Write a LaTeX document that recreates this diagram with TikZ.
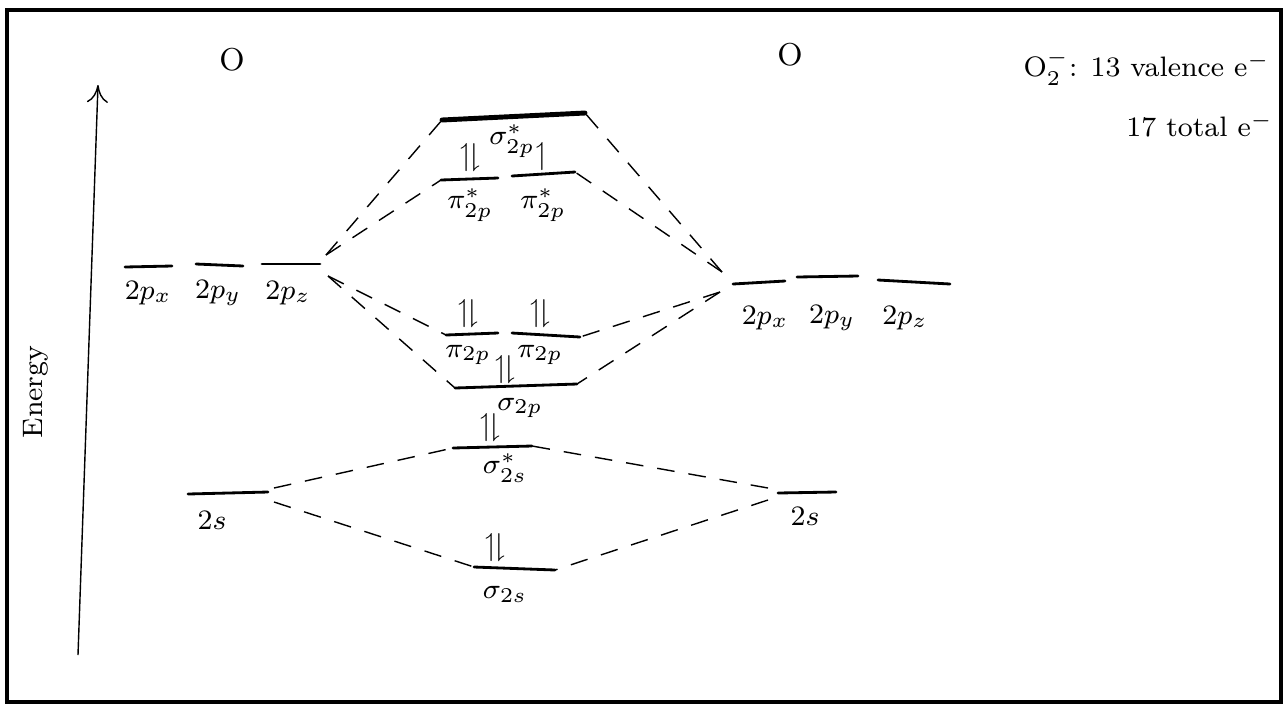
\documentclass[tikz,border=0pt]{standalone}
\usepackage{amssymb}
\usetikzlibrary{arrows.meta}
\begin{document}
\begin{tikzpicture}[x=0.01cm,y=-0.01cm,
  level/.style={thick,line cap=round},
  link/.style={thin,dash pattern=on 5pt off 4pt},
  lbl/.style={font=\footnotesize,inner sep=1pt},
  pair/.style={font=\small,inner sep=0pt}]
  \useasboundingbox (0,0) rectangle (1284,708);
  \draw[line width=1.2pt] (7,10) rectangle (1281,702);
  % energy axis
  \coordinate (eBot) at (78,655);
  \coordinate (eTop) at (98,85);
  \draw[-{To[length=5pt,width=6pt]}] (eBot) -- (eTop);
  \node[rotate=90,font=\footnotesize] (energy) at (36,392) {Energy};
  \node[font=\small] (atomA) at (232,60) {O};
  \node[font=\small] (atomB) at (790,55) {O};
  \node[anchor=east,font=\footnotesize] (note1) at (1282,68) {O$_2^-$: 13 valence e$^-$};
  \node[anchor=west,font=\footnotesize] (note2) at (1114,125) {17 total e$^-$};
  % left O
  \draw[level] (125,267) -- (172,266);
  \draw[level] (196,264) -- (243,266);
  \draw[level] (262,264) -- (320,264);
  \coordinate (A2pU) at (326,255);
  \coordinate (A2pD) at (328,276);
  \node[lbl] (Apx) at (148,293) {$2p_x$};
  \node[lbl] (Apy) at (218,293) {$2p_y$};
  \node[lbl] (Apz) at (288,293) {$2p_z$};
  \draw[level] (188,494) -- (268,492);
  \coordinate (A2sU) at (274,488);
  \coordinate (A2sD) at (274,502);
  \node[lbl] (As) at (212,520) {$2s$};
  % right O
  \draw[level] (733,284) -- (785,281);
  \draw[level] (797,277) -- (858,276);
  \draw[level] (878,280) -- (950,284);
  \coordinate (B2pU) at (722,272);
  \coordinate (B2pD) at (720,292);
  \node[lbl] (Bpx) at (765,318) {$2p_x$};
  \node[lbl] (Bpy) at (832,318) {$2p_y$};
  \node[lbl] (Bpz) at (905,318) {$2p_z$};
  \draw[level] (778,493) -- (836,492);
  \coordinate (B2sU) at (768,488);
  \coordinate (B2sD) at (768,500);
  \node[lbl] (Bs) at (805,516) {$2s$};
  % molecular orbitals
  \draw[level,line width=1.4pt] (442,120) coordinate (spxL) -- (585,113) coordinate (spxR);
  \node[lbl] (spxlbl) at (512,141) {$\sigma_{2p}^{*}$};
  \draw[level] (441,180) coordinate (ppxL) -- (498,178);
  \draw[level] (512,176) -- (575,172) coordinate (ppxR);
  \node[pair] (ppxe1) at (470,158) {$\upharpoonleft\!\downharpoonright$};
  \node[pair] (ppxe2) at (542,157) {$\upharpoonleft$};
  \node[lbl] (ppxlbl1) at (470,205) {$\pi_{2p}^{*}$};
  \node[lbl] (ppxlbl2) at (543,205) {$\pi_{2p}^{*}$};
  \draw[level] (446,335) coordinate (ppL) -- (498,333);
  \draw[level] (512,333) -- (580,337) coordinate (ppR);
  \node[pair] (ppe1) at (468,314) {$\upharpoonleft\!\downharpoonright$};
  \node[pair] (ppe2) at (540,314) {$\upharpoonleft\!\downharpoonright$};
  \node[lbl] (pplbl1) at (468,355) {$\pi_{2p}$};
  \node[lbl] (pplbl2) at (540,355) {$\pi_{2p}$};
  \draw[level] (455,388) coordinate (spL) -- (577,384) coordinate (spR);
  \node[pair] (spe) at (505,370) {$\upharpoonleft\!\downharpoonright$};
  \node[lbl] (splbl) at (520,408) {$\sigma_{2p}$};
  \draw[level] (453,448) coordinate (ssxL) -- (532,446) coordinate (ssxR);
  \node[pair] (ssxe) at (490,428) {$\upharpoonleft\!\downharpoonright$};
  \node[lbl] (ssxlbl) at (505,468) {$\sigma_{2s}^{*}$};
  \draw[level] (474,567) coordinate (ssL) -- (555,570) coordinate (ssR);
  \node[pair] (sse) at (495,548) {$\upharpoonleft\!\downharpoonright$};
  \node[lbl] (sslbl) at (505,594) {$\sigma_{2s}$};
  % correlation lines
  \draw[link] (A2pU) -- (spxL);
  \draw[link] (A2pU) -- (ppxL);
  \draw[link] (A2pD) -- (ppL);
  \draw[link] (A2pD) -- (spL);
  \draw[link] (B2pU) -- (spxR);
  \draw[link] (B2pU) -- (ppxR);
  \draw[link] (B2pD) -- (ppR);
  \draw[link] (B2pD) -- (spR);
  \draw[link] (A2sU) -- (ssxL);
  \draw[link] (A2sD) -- (ssL);
  \draw[link] (B2sU) -- (ssxR);
  \draw[link] (B2sD) -- (ssR);
\end{tikzpicture}
\end{document}
